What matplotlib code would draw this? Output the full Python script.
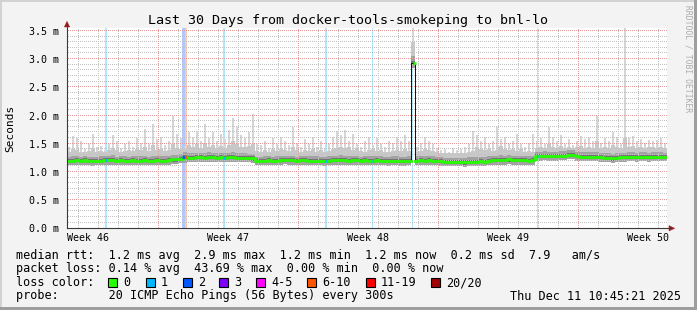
import numpy as np
import matplotlib
matplotlib.use('Agg')
import matplotlib.pyplot as plt
from matplotlib.patches import Rectangle, Polygon
from matplotlib.lines import Line2D
from datetime import datetime, timedelta

# ---------------- data (ms), 150 bins of 0.2 day each ----------------
median = [1.20,1.20,1.21,1.20,1.21,1.20,1.19,1.19,1.20,1.21,
          1.21,1.21,1.20,1.21,1.20,1.20,1.21,1.20,1.20,1.21,
          1.20,1.20,1.21,1.20,1.20,1.21,1.22,1.22,1.23,
          1.27,
          1.25,1.25,1.26,1.26,1.25,1.26,1.26,1.25,1.26,1.25,
          1.26,1.26,1.25,1.25,1.25,1.25,1.24,
          1.20,1.20,1.20,1.21,1.20,1.20,1.21,1.21,1.21,1.21,
          1.20,1.21,1.21,1.20,1.20,1.20,1.20,1.19,1.20,1.21,
          1.21,1.21,1.21,1.20,1.21,1.21,1.20,1.21,1.20,1.20,
          1.21,1.20,1.20,1.19,1.20,1.20,1.19,1.19,1.20,
          2.93,
          1.20,1.21,1.20,1.21,1.20,1.20,1.19,1.18,1.18,1.18,
          1.18,1.18,1.17,1.18,1.18,1.18,1.19,1.18,1.20,1.21,
          1.21,1.21,1.21,1.22,1.21,1.21,1.21,1.21,1.20,1.21,
          1.28,1.28,1.29,1.28,1.28,1.28,1.29,1.29,1.30,1.30,
          1.28,1.27,1.27,1.27,1.27,1.27,1.26,1.25,1.25,1.24,
          1.25,1.26,1.26,1.27,1.27,1.26,1.27,1.27,1.26,1.27,1.27,1.27,1.27]

ping_min = [1.13,1.12,1.13,1.13,1.12,1.13,1.11,1.12,1.13,1.13,
            1.12,1.13,1.13,1.12,1.13,1.13,1.12,1.13,1.13,1.12,
            1.13,1.12,1.13,1.13,1.12,1.13,1.14,1.14,1.15,
            1.16,
            1.17,1.18,1.18,1.17,1.18,1.18,1.17,1.18,1.18,1.17,
            1.18,1.18,1.17,1.17,1.17,1.17,1.16,
            1.13,1.12,1.13,1.13,1.12,1.13,1.13,1.14,1.13,1.13,
            1.12,1.13,1.13,1.12,1.13,1.12,1.12,1.11,1.12,1.13,
            1.13,1.13,1.13,1.12,1.13,1.13,1.12,1.13,1.12,1.12,
            1.13,1.12,1.12,1.11,1.12,1.12,1.11,1.11,1.12,
            2.85,
            1.12,1.13,1.12,1.13,1.12,1.12,1.11,1.10,1.10,1.10,
            1.10,1.10,1.09,1.10,1.10,1.10,1.11,1.10,1.12,1.13,
            1.13,1.13,1.13,1.14,1.13,1.13,1.13,1.13,1.12,1.13,
            1.20,1.20,1.21,1.20,1.20,1.20,1.21,1.21,1.22,1.22,
            1.20,1.19,1.19,1.19,1.19,1.19,1.18,1.17,1.17,1.16,
            1.17,1.18,1.18,1.19,1.19,1.18,1.19,1.19,1.18,1.19,1.19,1.19,1.19]

ping_p75 = [1.27,1.28,1.29,1.27,1.28,1.27,1.27,1.26,1.28,1.29,
            1.29,1.30,1.27,1.28,1.28,1.27,1.29,1.28,1.29,1.29,
            1.27,1.29,1.29,1.28,1.28,1.29,1.30,1.30,1.31,
            1.35,
            1.33,1.33,1.34,1.34,1.33,1.35,1.34,1.33,1.34,1.33,
            1.34,1.35,1.33,1.33,1.33,1.32,1.32,
            1.27,1.27,1.28,1.29,1.27,1.28,1.29,1.29,1.29,1.28,
            1.27,1.29,1.29,1.28,1.28,1.28,1.27,1.26,1.28,1.29,
            1.29,1.30,1.29,1.28,1.29,1.29,1.27,1.29,1.28,1.28,
            1.29,1.28,1.27,1.26,1.28,1.28,1.27,1.27,1.28,
            3.05,
            1.28,1.29,1.29,1.29,1.28,1.27,1.26,1.25,1.25,1.25,
            1.25,1.25,1.24,1.26,1.26,1.26,1.27,1.26,1.28,1.29,
            1.29,1.30,1.29,1.30,1.29,1.29,1.28,1.29,1.28,1.29,
            1.36,1.36,1.37,1.36,1.36,1.36,1.37,1.37,1.38,1.38,
            1.36,1.35,1.35,1.35,1.35,1.35,1.34,1.33,1.33,1.32,
            1.33,1.34,1.34,1.35,1.35,1.34,1.35,1.35,1.34,1.35,1.35,1.35,1.34]

ping_p95 = [1.36,1.40,1.38,1.36,1.35,1.37,1.42,1.36,1.37,1.35,
            1.38,1.42,1.38,1.36,1.37,1.38,1.37,1.40,1.38,1.45,
            1.37,1.48,1.38,1.40,1.37,1.38,1.50,1.42,1.40,
            1.40,
            1.48,1.44,1.50,1.43,1.52,1.45,1.48,1.43,1.46,1.43,
            1.48,1.55,1.50,1.45,1.44,1.46,1.50,
            1.37,1.36,1.38,1.36,1.40,1.37,1.40,1.38,1.37,1.45,
            1.38,1.36,1.38,1.37,1.40,1.36,1.38,1.35,1.37,1.40,
            1.42,1.45,1.42,1.44,1.38,1.42,1.37,1.36,1.38,1.40,
            1.37,1.38,1.36,1.36,1.37,1.38,1.37,1.40,1.37,
            3.30,
            1.36,1.37,1.40,1.38,1.37,1.35,1.34,1.34,1.33,1.34,
            1.33,1.34,1.34,1.35,1.37,1.44,1.40,1.38,1.40,1.37,
            1.39,1.46,1.40,1.39,1.40,1.37,1.40,1.36,1.37,1.36,
            1.43,1.44,1.42,1.50,1.44,1.43,1.46,1.42,1.44,1.42,
            1.44,1.46,1.43,1.44,1.43,1.55,1.42,1.44,1.43,1.48,
            1.44,1.42,1.60,1.44,1.46,1.43,1.44,1.43,1.44,1.45,1.43,1.44,1.42]

ping_max = [1.45,1.64,1.60,1.55,1.40,1.50,1.68,1.45,1.46,1.38,
            1.50,1.65,1.55,1.42,1.50,1.55,1.45,1.60,1.52,1.76,
            1.50,1.85,1.58,1.62,1.48,1.55,2.00,1.68,1.60,
            1.45,
            1.70,1.62,1.72,1.55,1.85,1.60,1.70,1.55,1.68,1.58,
            1.75,1.96,1.80,1.65,1.60,1.70,2.03,
            1.50,1.48,1.55,1.42,1.60,1.50,1.62,1.55,1.48,1.80,
            1.52,1.45,1.58,1.50,1.62,1.45,1.55,1.40,1.50,1.62,
            1.72,1.65,1.75,1.55,1.68,1.50,1.45,1.55,1.62,1.48,
            1.60,1.50,1.45,1.55,1.52,1.62,1.55,1.65,1.55,
            3.55,
            1.45,1.52,1.62,1.55,1.50,1.42,1.38,1.40,1.36,1.42,
            1.38,1.40,1.45,1.50,1.72,1.65,1.55,1.62,1.50,1.55,
            1.80,1.58,1.62,1.50,1.55,1.68,1.50,1.45,1.52,1.68,
            1.55,1.60,1.50,1.79,1.62,1.55,1.66,1.50,1.58,1.48,
            1.55,1.64,1.58,1.62,1.55,2.00,1.52,1.60,1.55,1.70,
            1.62,1.50,3.55,1.60,1.64,1.55,1.58,1.52,1.57,1.55,1.57,1.60,1.52]

# loss events: (day offset, width in days, lost pings)
loss_time  = [1.95, 5.83, 5.95, 7.85, 12.95, 15.28, 17.28, 23.52]
loss_width = [0.10, 0.12, 0.12, 0.09, 0.13, 0.06, 0.08, 0.05]
loss_count = [1, 2, 8, 1, 1, 1, 1, 1]

loss_labels = ['0', '1', '2', '3', '4-5', '6-10', '11-19', '20/20']
loss_colors = ['#26ff00', '#00b8ff', '#0059ff', '#7e00ff', '#ff00ff', '#ff5500', '#ff0000', '#a10000']
loss_limits = [0, 1, 2, 3, 5, 10, 19, 20]

row_rtt = 'median rtt:  1.2 ms avg  2.9 ms max  1.2 ms min  1.2 ms now  0.2 ms sd  7.9   am/s'
row_loss = 'packet loss: 0.14 % avg  43.69 % max  0.00 % min  0.00 % now'
row_probe = 'probe:       20 ICMP Echo Pings (56 Bytes) every 300s'
stamp = 'Thu Dec 11 10:45:21 2025'

start = datetime(2025, 11, 11, 10, 45, 21)
span_days = 30
bin_days = 0.2
y_top = 3.555

# ---------------- figure ----------------
W, H = 697, 310
MONO = 'DejaVu Sans Mono'
fig = plt.figure(figsize=(W / 100, H / 100), dpi=100, facecolor='#f3f3f3')

def fx(x):
    return x / W

def fy(y):
    return 1 - y / H

PL, PR, PT, PB = 67, 667, 27.8, 228.3
ax = fig.add_axes([fx(PL), fy(PB), (PR - PL) / W, (PB - PT) / H])
ax.set_facecolor('white')
for s in ax.spines.values():
    s.set_visible(False)

n = len(median)
edges = np.arange(n + 1) * bin_days
centers = (np.arange(n) + 0.5) * bin_days

def ext(a):
    a = np.asarray(a, dtype=float)
    return np.append(a, a[-1])

med = np.asarray(median, float)
pmin = np.asarray(ping_min, float)
p75 = np.maximum(np.asarray(ping_p75, float), med)
p95 = np.maximum(np.asarray(ping_p95, float), p75)
pmax = np.maximum(np.asarray(ping_max, float), p95)

def loss_index(c):
    for k, lim in enumerate(loss_limits):
        if c <= lim:
            return k
    return len(loss_limits) - 1

# loss background bars
for t, w, c in zip(loss_time, loss_width, loss_count):
    ax.axvspan(t - w / 2, t + w / 2, color=loss_colors[loss_index(c)], alpha=0.32, lw=0, zorder=0.5)

# smoke: thin light spikes up to max, then layered bands
ax.bar(centers, pmax - pmin, bottom=pmin, width=bin_days * 0.5, color='#d6d6d6', lw=0, zorder=1)
ax.fill_between(edges, ext(pmin), ext(p95), step='post', color='#c8c8c8', lw=0, zorder=1.1)
ax.fill_between(edges, ext(pmin), ext(p75), step='post', color='#a2a2a2', lw=0, zorder=1.2)
ax.fill_between(edges, ext(med - 0.04), ext(med + 0.035), step='post', color='#747474', lw=0, zorder=1.3)

# time ticks
def day(dt):
    return (dt - start).total_seconds() / 86400.0

end = start + timedelta(days=span_days)
midnights, sundays = [], []
d = datetime(start.year, start.month, start.day) + timedelta(days=1)
while d < end:
    midnights.append(day(d))
    if d.weekday() == 6:
        sundays.append(day(d))
    d += timedelta(days=1)

ax.set_xlim(0, span_days)
ax.set_ylim(0, y_top)
ax.set_xticks(sundays)
ax.set_xticks([m for m in midnights if m not in sundays], minor=True)
ax.set_xticklabels([])
ax.set_yticks(np.arange(0, 3.51, 0.5))
ax.set_yticks([v / 10 for v in range(0, 36) if v % 5 != 0], minor=True)
ax.set_yticklabels([f'{v:.1f} m' for v in np.arange(0, 3.51, 0.5)], fontfamily=MONO, fontsize=7.2)
ax.tick_params(which='both', length=0)
ax.tick_params(axis='y', pad=5.5)

# dotted grid: one pixel on, one pixel off
h_px, w_px = PB - PT, PR - PL
ydots = (np.arange(0.5, h_px, 2.0)) * y_top / h_px
xdots = (np.arange(0.5, w_px, 2.0)) * span_days / w_px
GRID_MINOR, GRID_MAJOR = '#c2c2c2', '#e49a9a'
for xv in ax.get_xticks(minor=True):
    ax.plot(np.full_like(ydots, xv), ydots, ',', color=GRID_MINOR, zorder=2.5)
for yv in ax.get_yticks(minor=True):
    ax.plot(xdots, np.full_like(xdots, yv), ',', color=GRID_MINOR, zorder=2.5)
for xv in ax.get_xticks():
    ax.plot(np.full_like(ydots, xv), ydots, ',', color=GRID_MAJOR, zorder=2.6)
for yv in ax.get_yticks()[1:]:
    ax.plot(xdots, np.full_like(xdots, yv), ',', color=GRID_MAJOR, zorder=2.6)

# week labels centered mid-week
d = datetime(2025, 11, 9)
while d < end:
    c = d + timedelta(days=3.5)
    if 0 <= day(c) <= span_days:
        ax.text(day(c), -12.4 / (PB - PT), 'Week ' + c.strftime('%V'), transform=ax.get_xaxis_transform(),
                ha='center', va='baseline', fontfamily=MONO, fontsize=7.2, color='black', clip_on=False)
    d += timedelta(days=7)

# median lines
ax.step(edges, ext(med), where='post', color='#151515', lw=0.72, zorder=3)
green = med.copy()
green[86] = np.nan
ax.step(edges, ext(green), where='post', color=loss_colors[0], lw=2.0, zorder=3.2)
ax.hlines(med[86], 17.30, 17.45, color=loss_colors[0], lw=2.0, zorder=3.2)
for t, w, c in zip(loss_time, loss_width, loss_count):
    b = int(t / bin_days)
    if b == 86:
        continue
    ax.hlines(med[b], t - w / 2, t + w / 2, color=loss_colors[loss_index(c)], lw=2.0, zorder=3.3)

# axes lines and arrows (pixel coordinates)
AX_COL = '#3a3a3a'
ARW = '#9b1c1c'
fig.add_artist(Line2D([fx(PL), fx(PL)], [fy(PB), fy(25)], color=AX_COL, lw=0.8))
fig.add_artist(Line2D([fx(PL), fx(670)], [fy(PB), fy(PB)], color=AX_COL, lw=0.8))
fig.add_artist(Polygon([[fx(64.3), fy(27)], [fx(69.7), fy(27)], [fx(67), fy(21.3)]], closed=True,
                       facecolor=ARW, edgecolor=ARW, lw=0.3, transform=fig.transFigure))
fig.add_artist(Polygon([[fx(669), fy(225.6)], [fx(669), fy(231)], [fx(674.7), fy(PB)]], closed=True,
                       facecolor=ARW, edgecolor=ARW, lw=0.3, transform=fig.transFigure))

# title, unit label, watermark
fig.text(fx(347.5), fy(24), 'Last 30 Days from docker-tools-smokeping to bnl-lo', ha='center', va='baseline',
         fontfamily=MONO, fontsize=9.6, color='black')
fig.text(fx(10.5), fy(128.5), 'Seconds', rotation=90, ha='center', va='center',
         fontfamily=MONO, fontsize=8.0, color='black')
fig.text(fx(688), fy(5), 'RRDTOOL / TOBI OETIKER', rotation=270, ha='center', va='top',
         fontfamily=MONO, fontsize=5.8, color='#ababab')

# legend
LFS = 8.5
def ltext(x, y, s, ha='left'):
    fig.text(fx(x), fy(y), s, ha=ha, va='baseline', fontfamily=MONO, fontsize=LFS, color='black')

ltext(16, 258.5, row_rtt)
ltext(16, 272, row_loss)
ltext(16, 286, 'loss color:')
sw_x = [108, 146, 183, 219, 256, 307, 366, 431]
for x, lab, col in zip(sw_x, loss_labels, loss_colors):
    fig.add_artist(Rectangle((fx(x), fy(286.8)), 9 / W, 9 / H, transform=fig.transFigure,
                             facecolor=col, edgecolor='black', lw=0.8))
    ltext(x + 15, 286, lab)
ltext(16, 299.5, row_probe)
ltext(681, 299.5, stamp, ha='right')

# image frame
fig.add_artist(Rectangle((0, fy(2)), 1, 2 / H, transform=fig.transFigure, facecolor='#d2d2d2', lw=0))
fig.add_artist(Rectangle((0, 0), 2 / W, 1, transform=fig.transFigure, facecolor='#d2d2d2', lw=0))
fig.add_artist(Rectangle((fx(694), 0), 3 / W, 1, transform=fig.transFigure, facecolor='#9e9e9e', lw=0))
fig.add_artist(Rectangle((0, 0), 1, 3 / H, transform=fig.transFigure, facecolor='#9e9e9e', lw=0))

fig.savefig('out.png', dpi=100, facecolor=fig.get_facecolor())
